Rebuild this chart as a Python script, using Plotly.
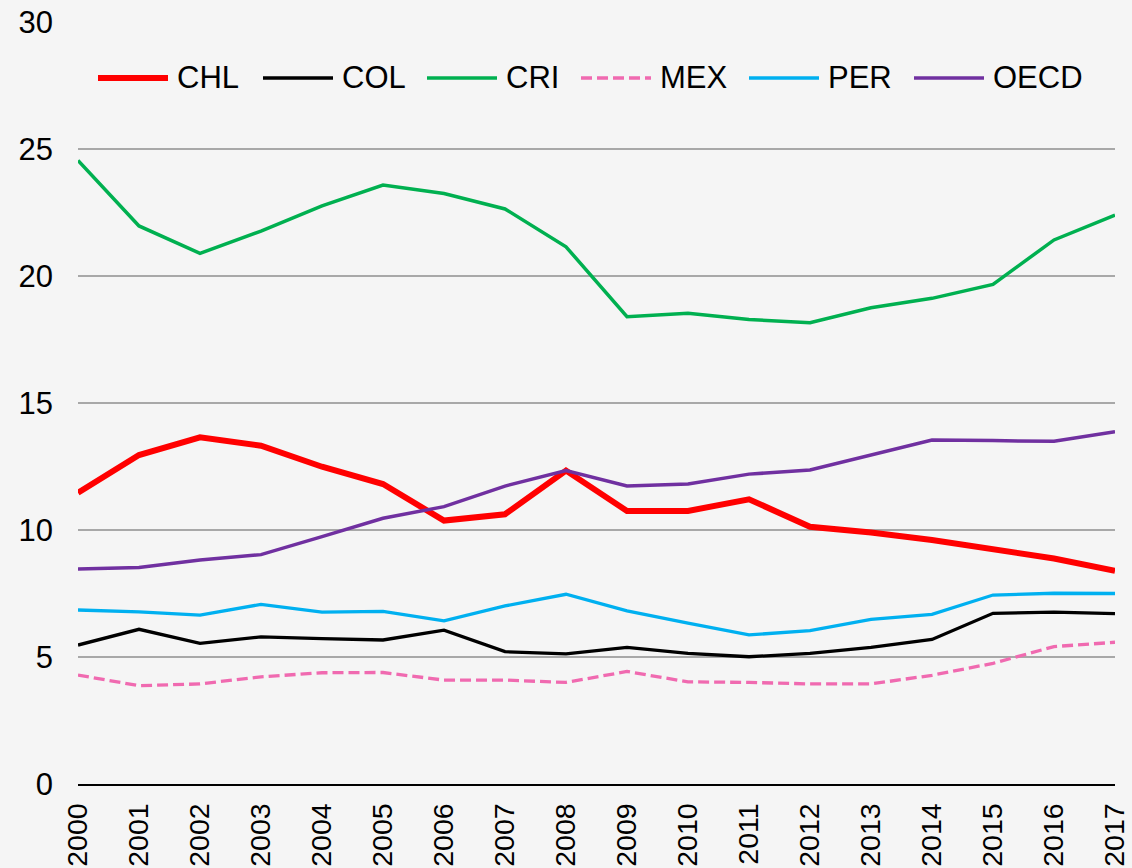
import plotly.graph_objects as go

years = list(range(2000, 2018))
CHL = [11.47, 12.95, 13.65, 13.32, 12.49, 11.81, 10.37, 10.62, 12.34, 10.75, 10.75, 11.21,
       10.13, 9.90, 9.61, 9.27, 8.88, 8.39]
COL = [5.47, 6.09, 5.54, 5.79, 5.72, 5.67, 6.06, 5.21, 5.12, 5.38, 5.14, 5.01,
       5.14, 5.38, 5.69, 6.72, 6.77, 6.71]
CRI = [24.55, 21.97, 20.89, 21.77, 22.76, 23.58, 23.25, 22.64, 21.15, 18.40, 18.53, 18.29,
       18.16, 18.75, 19.12, 19.67, 21.42, 22.40]
MEX = [4.29, 3.87, 3.94, 4.22, 4.38, 4.39, 4.09, 4.09, 4.00, 4.43, 4.02, 4.00,
       3.94, 3.94, 4.28, 4.75, 5.41, 5.58]
PER = [6.85, 6.78, 6.65, 7.07, 6.77, 6.80, 6.42, 7.01, 7.47, 6.82, 6.33, 5.87,
       6.04, 6.48, 6.68, 7.44, 7.51, 7.50]
OECD = [8.46, 8.52, 8.82, 9.03, 9.74, 10.46, 10.92, 11.73, 12.34, 11.73, 11.81, 12.20,
        12.36, 12.95, 13.54, 13.52, 13.49, 13.87]

series = [
    ("CHL", CHL, "#FF0000", 6, "solid"),
    ("COL", COL, "#000000", 3.3, "solid"),
    ("CRI", CRI, "#00B050", 3.5, "solid"),
    ("MEX", MEX, "#F06AB0", 3.3, "11px,5px"),
    ("PER", PER, "#00B0F0", 3.3, "solid"),
    ("OECD", OECD, "#7030A0", 3.5, "solid"),
]

# ---- layout geometry (pixels) ----
W, H = 1132, 868
ML, MR, MT, MB = 78, 17, 22, 84
PW, PH = W - ML - MR, H - MT - MB
legend_line_px = [98, 263, 427, 581, 749, 914]   # left edge of each legend sample
legend_line_len = 70
legend_text_gap = 7
legend_y_px = 78

font = dict(family="Liberation Sans, Arial, sans-serif", size=31, color="#000000")
xfont = dict(family="Liberation Sans, Arial, sans-serif", size=28.5, color="#000000")

fig = go.Figure()
shapes, annotations = [], []
for (name, vals, color, width, dash), lx in zip(series, legend_line_px):
    fig.add_trace(go.Scatter(x=years, y=vals, name=name, mode="lines",
                             line=dict(color=color, width=width, dash=dash),
                             showlegend=False))
    x0 = (lx - ML) / PW
    x1 = (lx + legend_line_len - ML) / PW
    yp = 1 - (legend_y_px - MT) / PH
    shapes.append(dict(type="line", xref="paper", yref="paper", x0=x0, x1=x1, y0=yp, y1=yp,
                       line=dict(color=color, width=width, dash=dash)))
    annotations.append(dict(xref="paper", yref="paper",
                            x=(lx + legend_line_len + legend_text_gap - ML) / PW, y=yp,
                            xanchor="left", yanchor="middle", text=name, showarrow=False,
                            font=font))

fig.update_layout(
    width=W, height=H,
    margin=dict(l=ML, r=MR, t=MT, b=MB),
    paper_bgcolor="#f5f5f5",
    plot_bgcolor="rgba(0,0,0,0)",
    font=font,
    showlegend=False,
    shapes=shapes,
    annotations=annotations,
    xaxis=dict(range=[2000, 2017], tickmode="array", tickvals=years,
               ticktext=[str(y) for y in years], tickangle=-90,
               showgrid=False, zeroline=False, showline=True,
               linecolor="#000000", linewidth=2, ticks="",
               ticklabelstandoff=6, tickfont=xfont, automargin=False,
               ticklabeloverflow="allow"),
    yaxis=dict(range=[0, 30], dtick=5, tick0=0, showgrid=True,
               gridcolor="#a8a8a8", gridwidth=2, zeroline=False,
               showline=False, ticks="", ticklabelstandoff=24, tickfont=font,
               automargin=False, ticklabeloverflow="allow"),
)

fig.write_html("out.html",
               config={"displayModeBar": False},
               post_script="document.body.style.margin='0';"
                           "document.body.style.overflow='hidden';")
